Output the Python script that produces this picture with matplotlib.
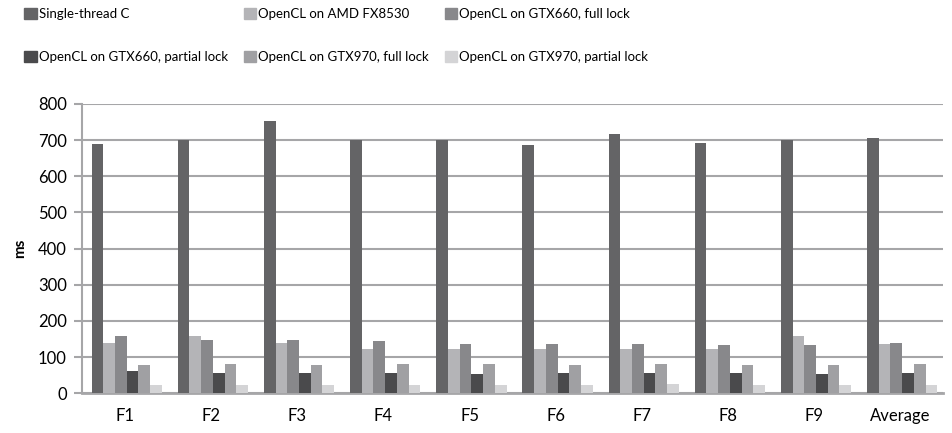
import matplotlib.pyplot as plt
import numpy as np
from matplotlib.patches import Patch

plt.rcParams['font.family'] = ['Lato', 'DejaVu Sans']

# Datos
categorias = ['F1', 'F2', 'F3', 'F4', 'F5', 'F6', 'F7', 'F8', 'F9', 'Average']
series = ['Single-thread C', 'OpenCL on AMD FX8530', 'OpenCL on GTX660, full lock',
          'OpenCL on GTX660, partial lock', 'OpenCL on GTX970, full lock',
          'OpenCL on GTX970, partial lock']
single_c = [690, 700, 752, 700, 700, 685, 718, 693, 700, 706]
amd_fx = [140, 157, 140, 123, 123, 123, 123, 123, 157, 135]
gtx660_full = [157, 148, 148, 143, 135, 135, 135, 132, 132, 140]
gtx660_partial = [60, 57, 57, 57, 53, 57, 57, 57, 52, 57]
gtx970_full = [78, 82, 78, 82, 82, 78, 82, 78, 78, 82]
gtx970_partial = [22, 22, 22, 22, 22, 22, 25, 22, 22, 22]
valores = [single_c, amd_fx, gtx660_full, gtx660_partial, gtx970_full, gtx970_partial]
colores = ['#646466', '#b4b4b7', '#88888b', '#4a4a4c', '#a0a0a3', '#d4d4d6']

fig = plt.figure(figsize=(9.53, 4.33), dpi=100)
ax = fig.add_axes([0.086, 0.092, 0.904, 0.668])

x = np.arange(len(categorias))
ancho = 0.136
for i, (v, c) in enumerate(zip(valores, colores)):
    ax.bar(x + (i - 2.5) * ancho + 0.02, v, ancho, color=c, zorder=3)

ax.set_xlim(-0.5, len(categorias) - 0.5)
ax.set_ylim(0, 800)
ax.set_yticks(range(0, 801, 100))
ax.set_xticks(x)
ax.set_xticklabels(categorias)
ax.yaxis.grid(True, color='#a6a6a8', linewidth=1.5, zorder=0)
ax.set_axisbelow(True)
for s in ['top', 'right']:
    ax.spines[s].set_visible(False)
ax.spines['left'].set_color('#a6a6a8')
ax.spines['left'].set_linewidth(1.5)
ax.spines['bottom'].set_color('#a6a6a8')
ax.spines['bottom'].set_linewidth(2)
ax.tick_params(axis='y', length=6, width=1.5, color='#a6a6a8', labelsize=12, pad=5)
ax.tick_params(axis='x', length=0, labelsize=12, pad=11)
ax.set_ylabel('ms', fontsize=11, fontweight='bold', labelpad=8)

# la leyenda se llena por columnas, asi que se reordena para leer por filas
orden = [0, 3, 1, 4, 2, 5]
handles = [Patch(color=colores[k]) for k in orden]
etiquetas = [series[k] for k in orden]
fig.legend(handles, etiquetas, loc='upper left', bbox_to_anchor=(0.013, 1.01), ncol=3,
           frameon=False, fontsize=9.5, handlelength=0.95, handleheight=0.95,
           handletextpad=0.15, labelspacing=2.35, columnspacing=1.2)

plt.savefig('out.png', dpi=100)
